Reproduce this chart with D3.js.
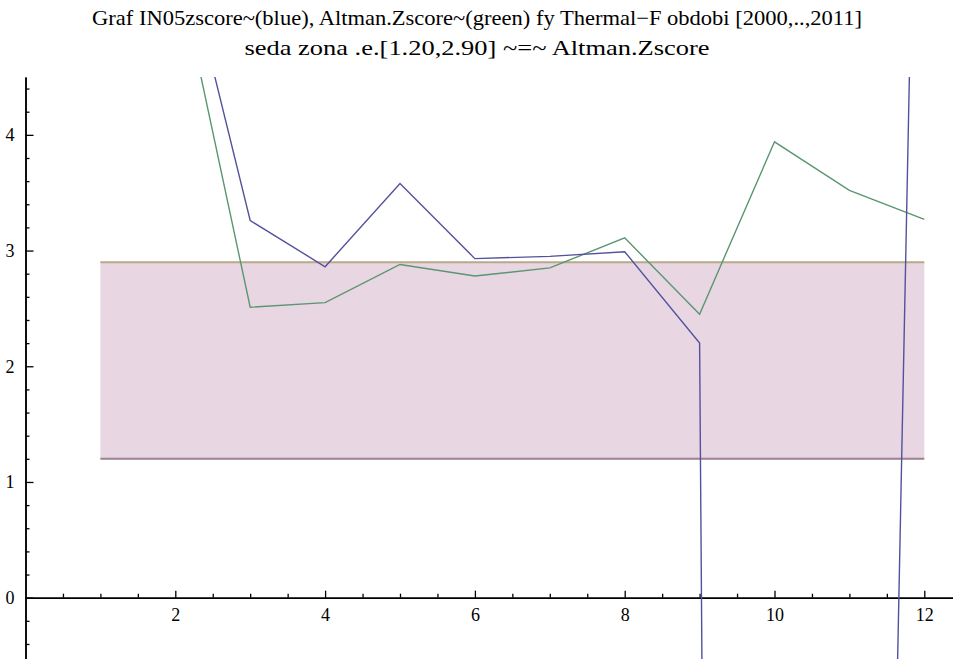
<!DOCTYPE html>
<html>
<head>
<meta charset="utf-8">
<script src="https://cdn.jsdelivr.net/npm/d3@7"></script>
<style>
  body { margin: 0; background: #fff; }
  svg { display: block; }
  .title { font-family: "Liberation Serif", "DejaVu Serif", serif; fill: #000; }
</style>
</head>
<body>
<div class="chart"></div>
<script>
// period index 1..12 = years 2000..2011
var periods = [1, 2, 3, 4, 5, 6, 7, 8, 9, 10, 11, 12];
// IN05 z-score (blue) - values at 1, 10, 11, 12 run off the visible area
var in05 = [8.2, 5.89, 3.26, 2.86, 3.58, 2.93, 2.95, 2.99, 2.20, -86, -21.2, 10.9];
// Altman z-score (green)
var altman = [7.1, 5.54, 2.51, 2.55, 2.88, 2.78, 2.85, 3.11, 2.45, 3.94, 3.52, 3.27];
// grey zone
var zoneLow = 1.20, zoneHigh = 2.90;
var zoneFrom = 1, zoneTo = 12;

var xMajor = [2, 4, 6, 8, 10, 12];
var yMajor = [0, 1, 2, 3, 4];

var titleLines = [
  "Graf IN05zscore~(blue), Altman.Zscore~(green) fy Thermal\u2212F obdobi [2000,..,2011]",
  "seda zona .e.[1.20,2.90] ~=~ Altman.Zscore"
];
var titleWidths = [770, 465];

var svgWidth = 953, svgHeight = 659;

var svg = d3.select(".chart")
  .append("svg")
  .attr("width", svgWidth)
  .attr("height", svgHeight);

// scales
var xScale = d3.scaleLinear()
  .domain([0, 12.5])
  .range([25.5, 25.5 + 12.5 * 74.9]);

var yScale = d3.scaleLinear()
  .domain([-0.53, 4.5])
  .range([659, 77]);

// clip for data lines
svg.append("clipPath")
  .attr("id", "plotClip")
  .append("rect")
  .attr("x", xScale(0))
  .attr("y", yScale(4.5))
  .attr("width", svgWidth - xScale(0))
  .attr("height", yScale(-0.53) - yScale(4.5));

// grey zone band
svg.append("rect")
  .attr("x", xScale(zoneFrom))
  .attr("y", yScale(zoneHigh))
  .attr("width", xScale(zoneTo) - xScale(zoneFrom))
  .attr("height", yScale(zoneLow) - yScale(zoneHigh))
  .attr("fill", "#e8d6e2");

svg.append("line")
  .attr("x1", xScale(zoneFrom)).attr("x2", xScale(zoneTo))
  .attr("y1", yScale(zoneHigh)).attr("y2", yScale(zoneHigh))
  .attr("stroke", "#b8a98a").attr("stroke-width", 2);

svg.append("line")
  .attr("x1", xScale(zoneFrom)).attr("x2", xScale(zoneTo))
  .attr("y1", yScale(zoneLow)).attr("y2", yScale(zoneLow))
  .attr("stroke", "#9c7f92").attr("stroke-width", 2);

// axes - minor ticks first
var xMinor = d3.range(0.5, 12.51, 0.5).filter(v => xMajor.indexOf(v) < 0);
var yMinor = d3.range(-0.4, 4.41, 0.2).map(v => Math.round(v * 10) / 10)
  .filter(v => yMajor.indexOf(v) < 0);

var xAxisG = svg.append("g").attr("transform", `translate(0, ${yScale(0)})`);
xAxisG.append("g")
  .call(d3.axisBottom(xScale).tickValues(xMinor).tickSizeInner(-4).tickSizeOuter(0).tickFormat(""));
xAxisG.append("g")
  .call(d3.axisBottom(xScale).tickValues(xMajor).tickSizeInner(-7).tickSizeOuter(0).tickPadding(11).tickFormat(d3.format("d")));

var yAxisG = svg.append("g").attr("transform", `translate(${xScale(0)}, 0)`);
yAxisG.append("g")
  .call(d3.axisLeft(yScale).tickValues(yMinor).tickSizeInner(-4).tickSizeOuter(0).tickFormat(""));
yAxisG.append("g")
  .call(d3.axisLeft(yScale).tickValues(yMajor).tickSizeInner(-8).tickSizeOuter(0).tickPadding(11).tickFormat(d3.format("d")));

svg.selectAll(".domain").attr("stroke", "#000").attr("stroke-width", 1.5);
svg.selectAll(".tick line").attr("stroke", "#000").attr("stroke-width", 1.3);
svg.selectAll(".tick text")
  .attr("font-family", "'Liberation Serif', 'DejaVu Serif', serif")
  .attr("font-size", "18px")
  .attr("fill", "#000");

// data lines
var line = d3.line()
  .x((d, i) => xScale(periods[i]))
  .y(d => yScale(d));

var plot = svg.append("g").attr("clip-path", "url(#plotClip)");

plot.append("path")
  .datum(altman)
  .attr("d", line)
  .attr("fill", "none")
  .attr("stroke", "#5a9670")
  .attr("stroke-width", 1.4);

plot.append("path")
  .datum(in05)
  .attr("d", line)
  .attr("fill", "none")
  .attr("stroke", "#52529c")
  .attr("stroke-width", 1.4);

// title
svg.selectAll(".title")
  .data(titleLines)
  .enter()
  .append("text")
  .attr("class", "title")
  .attr("x", 477)
  .attr("y", (d, i) => 25 + i * 30)
  .attr("text-anchor", "middle")
  .attr("font-size", (d, i) => i === 0 ? "21px" : "22px")
  .attr("textLength", (d, i) => titleWidths[i])
  .attr("lengthAdjust", "spacingAndGlyphs")
  .text(d => d);
</script>
</body>
</html>
